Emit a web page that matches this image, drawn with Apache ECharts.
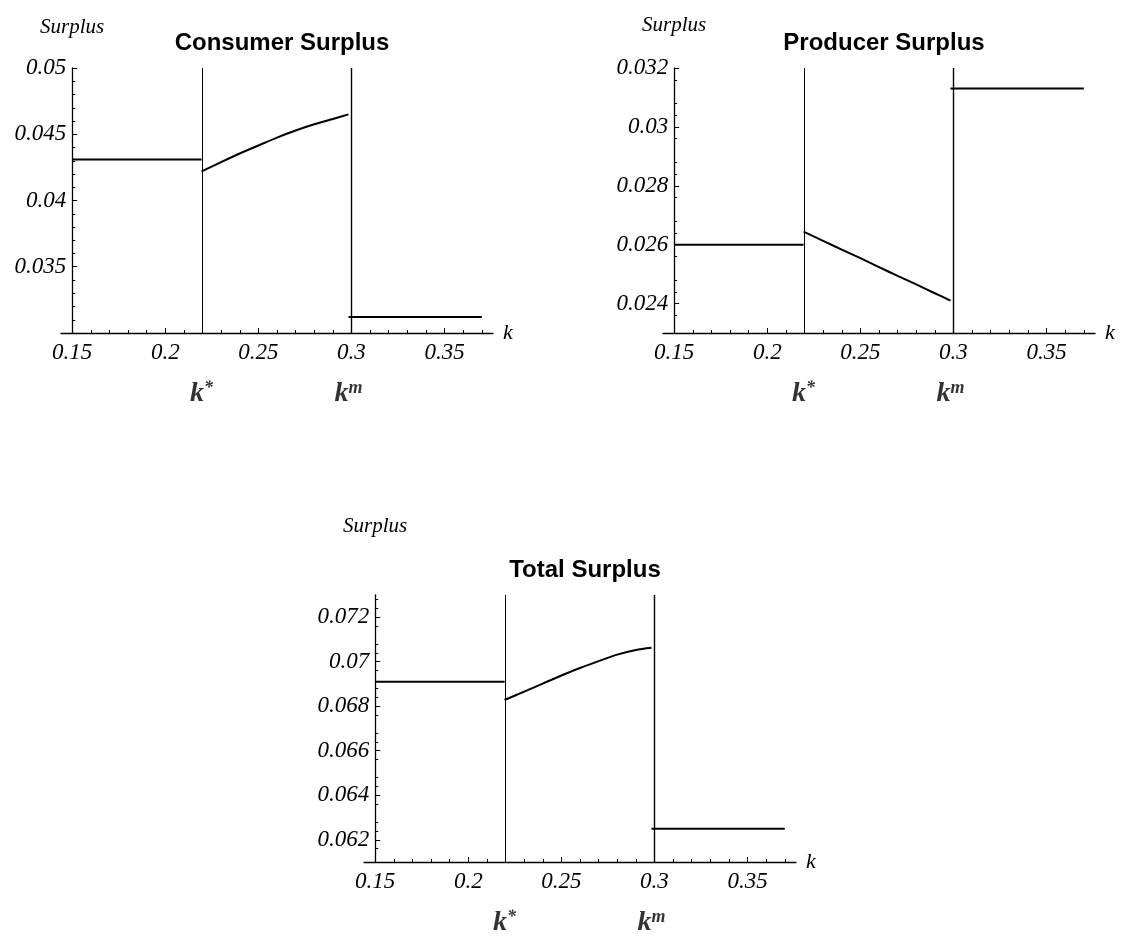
<!DOCTYPE html>
<html>
<head>
<meta charset="utf-8">
<script src="https://cdn.jsdelivr.net/npm/echarts@6/dist/echarts.min.js"></script>
<style>
  html, body { margin: 0; padding: 0; background: #fff; }
  #chart { width: 1124px; height: 945px; }
</style>
</head>
<body>
<div id="chart"></div>
<script>
// Critical capacity levels and plotted range of k
const K_STAR = 0.2195;
const K_M = 0.2984;
const K_START = 0.15;
const K_END = 0.37;
const X_MIN = 0.144;
const X_MAX = 0.376;
const X_TICKS = [0.15, 0.2, 0.25, 0.3, 0.35];

// k values sampled on the interior branch (k* .. k^m)
const MID_K = [0.2195, 0.23, 0.24, 0.25, 0.26, 0.27, 0.28, 0.29, 0.2984];

// Consumer surplus
const CS_LOW = 0.0431;
const CS_MID = [0.0422, 0.0429, 0.04355, 0.04415, 0.04475, 0.04528, 0.04575, 0.04615, 0.0465];
const CS_HIGH = 0.0312;
const CS_Y = [0.03, 0.05];
const CS_TICKS = [0.035, 0.04, 0.045, 0.05];

// Producer surplus
const PS_LOW = 0.026;
const PS_MID = [0.02644, 0.02613, 0.02583, 0.02554, 0.02524, 0.02494, 0.02465, 0.02435, 0.0241];
const PS_HIGH = 0.0313;
const PS_Y = [0.023, 0.032];
const PS_TICKS = [0.024, 0.026, 0.028, 0.03, 0.032];

// Total surplus
const TS_LOW = 0.0691;
const TS_MID = [0.06828, 0.06866, 0.06902, 0.06938, 0.06972, 0.07003, 0.07032, 0.07053, 0.07063];
const TS_HIGH = 0.0625;
const TS_Y = [0.061, 0.073];
const TS_TICKS = [0.062, 0.064, 0.066, 0.068, 0.07, 0.072];

const TITLES = ['Consumer Surplus', 'Producer Surplus', 'Total Surplus'];

const SERIF = "'Liberation Serif', 'Times New Roman', serif";
const SANS = "'Liberation Sans', Arial, Helvetica, sans-serif";

// minor tick positions: subdivide each major step into five
function minorTicks(lo, hi, step) {
  const out = [];
  const n = Math.round((hi - lo) / step);
  for (let i = 0; i <= n; i++) {
    if (i % 5 !== 0) out.push(+(lo + i * step).toFixed(6));
  }
  return out;
}
const X_MINOR = minorTicks(0.15, 0.37, 0.01);

const panels = [
  { title: TITLES[0], low: CS_LOW, mid: CS_MID, high: CS_HIGH, y: CS_Y, ticks: CS_TICKS,
    minor: minorTicks(0.03, 0.05, 0.001),
    box: { left: 61, top: 68, width: 432, height: 265 }, titleTop: 26, nameGap: 30 },
  { title: TITLES[1], low: PS_LOW, mid: PS_MID, high: PS_HIGH, y: PS_Y, ticks: PS_TICKS,
    minor: minorTicks(0.0232, 0.032, 0.0004).filter(v => v > 0.023),
    box: { left: 663, top: 68, width: 432, height: 265 }, titleTop: 26, nameGap: 32 },
  { title: TITLES[2], low: TS_LOW, mid: TS_MID, high: TS_HIGH, y: TS_Y, ticks: TS_TICKS,
    minor: minorTicks(0.0612, 0.073, 0.0004).filter(v => v > 0.061),
    box: { left: 364, top: 595, width: 432, height: 267 }, titleTop: 553, nameGap: 58 }
];

const grid = [], xAxis = [], yAxis = [], series = [], title = [];

panels.forEach((p, i) => {
  grid.push(Object.assign({ containLabel: false }, p.box));
  const yShift = -(K_START - X_MIN) / (X_MAX - X_MIN) * p.box.width;

  title.push({
    text: p.title,
    left: p.box.left + p.box.width / 2,
    top: p.titleTop,
    textAlign: 'center',
    textStyle: { fontFamily: SANS, fontWeight: 'bold', fontSize: 24, color: '#000' }
  });

  const tickFont = { fontFamily: SERIF, fontStyle: 'italic', fontSize: 23, color: '#000' };

  // major x axis
  xAxis.push({
    gridIndex: i, type: 'value', min: X_MIN, max: X_MAX, position: 'bottom',
    name: 'k', nameLocation: 'end', nameGap: 10,
    nameTextStyle: { fontFamily: SERIF, fontStyle: 'italic', fontSize: 22, color: '#000', verticalAlign: 'middle' },
    axisLine: { show: true, onZero: false, lineStyle: { color: '#000', width: 1.3 } },
    axisTick: { show: true, inside: true, length: 5, customValues: X_TICKS, lineStyle: { color: '#000', width: 1 } },
    axisLabel: Object.assign({ customValues: X_TICKS, margin: 8, formatter: v => String(v) }, tickFont),
    splitLine: { show: false }
  });
  // minor x ticks
  xAxis.push({
    gridIndex: i, type: 'value', min: X_MIN, max: X_MAX, position: 'bottom',
    axisLine: { show: false },
    axisTick: { show: true, inside: true, length: 3, customValues: X_MINOR, lineStyle: { color: '#000', width: 1 } },
    axisLabel: { show: false },
    splitLine: { show: false }
  });
  // major y axis, drawn at k = 0.15
  yAxis.push({
    gridIndex: i, type: 'value', min: p.y[0], max: p.y[1], position: 'left', offset: yShift,
    name: 'Surplus', nameLocation: 'end', nameGap: p.nameGap,
    nameTextStyle: { fontFamily: SERIF, fontStyle: 'italic', fontSize: 21, color: '#000', align: 'center' },
    axisLine: { show: true, onZero: false, lineStyle: { color: '#000', width: 1.3 } },
    axisTick: { show: true, inside: true, length: 5, customValues: p.ticks, lineStyle: { color: '#000', width: 1 } },
    axisLabel: Object.assign({ customValues: p.ticks, margin: 6, formatter: v => String(v) }, tickFont),
    splitLine: { show: false }
  });
  // minor y ticks
  yAxis.push({
    gridIndex: i, type: 'value', min: p.y[0], max: p.y[1], position: 'left', offset: yShift,
    axisLine: { show: false },
    axisTick: { show: true, inside: true, length: 3, customValues: p.minor, lineStyle: { color: '#000', width: 1 } },
    axisLabel: { show: false },
    splitLine: { show: false }
  });

  const xi = 2 * i, yi = 2 * i;
  const curve = { type: 'line', xAxisIndex: xi, yAxisIndex: yi, showSymbol: false, silent: true,
    lineStyle: { color: '#000', width: 2 } };

  series.push(Object.assign({}, curve, {
    data: [[K_START, p.low], [K_STAR, p.low]],
    markLine: {
      silent: true, symbol: 'none', label: { show: false },
      lineStyle: { color: '#000', width: 1, type: 'solid' },
      data: [{ xAxis: K_STAR }, { xAxis: K_M, lineStyle: { width: 1.4 } }]
    }
  }));
  series.push(Object.assign({}, curve, { smooth: 0.3, data: MID_K.map((k, j) => [k, p.mid[j]]) }));
  series.push(Object.assign({}, curve, { data: [[K_M, p.high], [K_END, p.high]] }));

  // k* and k^m markers below the axis
  const kRich = {
    k: { fontFamily: SERIF, fontStyle: 'italic', fontWeight: 'bold', fontSize: 28, color: '#000', lineHeight: 30 },
    s: { fontFamily: SERIF, fontStyle: 'italic', fontWeight: 'bold', fontSize: 18, color: '#000', lineHeight: 30, verticalAlign: 'top' }
  };
  series.push({
    type: 'scatter', xAxisIndex: xi, yAxisIndex: yi, symbolSize: 0, silent: true,
    data: [
      { value: [K_STAR, p.y[0]], label: { formatter: '{k|k}{s|*}' } },
      { value: [K_M, p.y[0]], label: { formatter: '{k|k}{s|m}' } }
    ],
    label: { show: true, position: 'bottom', distance: 46, rich: kRich }
  });
});

const chart = echarts.init(document.getElementById('chart'), null, { renderer: 'canvas' });
chart.setOption({
  backgroundColor: '#fff',
  animation: false,
  title, grid, xAxis, yAxis, series
});
</script>
</body>
</html>
